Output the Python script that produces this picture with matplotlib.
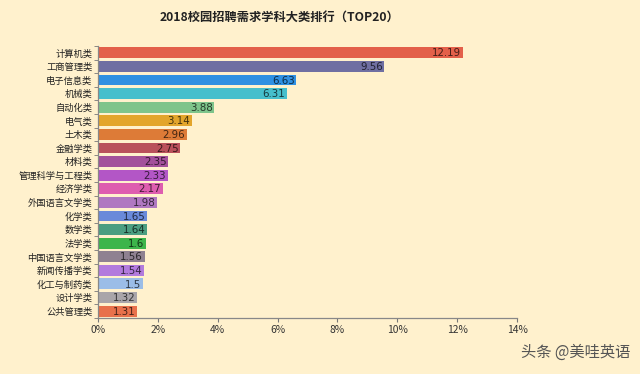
import numpy as np
import matplotlib
matplotlib.use("Agg")
import matplotlib.pyplot as plt
from matplotlib.colors import to_rgb
from matplotlib.ticker import FuncFormatter, FixedLocator

plt.rcParams["font.family"] = ["Noto Sans CJK SC", "DejaVu Sans"]

subjects = ["计算机类", "工商管理类", "电子信息类", "机械类", "自动化类", "电气类",
            "土木类", "金融学类", "材料类", "管理科学与工程类", "经济学类",
            "外国语言文学类", "化学类", "数学类", "法学类", "中国语言文学类",
            "新闻传播学类", "化工与制药类", "设计学类", "公共管理类"]
share = [12.19, 9.56, 6.63, 6.31, 3.88, 3.14, 2.96, 2.75, 2.35, 2.33, 2.17,
         1.98, 1.65, 1.64, 1.6, 1.56, 1.54, 1.5, 1.32, 1.31]
share_text = ["12.19", "9.56", "6.63", "6.31", "3.88", "3.14", "2.96", "2.75",
              "2.35", "2.33", "2.17", "1.98", "1.65", "1.64", "1.6", "1.56",
              "1.54", "1.5", "1.32", "1.31"]
bar_colors = ["#E3604A", "#6F6FA2", "#2F90E2", "#46BFCC", "#7EC48B", "#E3A52B",
              "#DD7B37", "#B9515B", "#A3519B", "#B356C6", "#DE5DAF", "#B078C1",
              "#6A8ADA", "#4B9E81", "#3DB54B", "#8F8191", "#B27BDD", "#9BBDE7",
              "#A9A5A9", "#E8714B"]

BG = "#FFF1CD"

fig = plt.figure(figsize=(6.4, 3.74), dpi=100, facecolor=BG)
ax = fig.add_axes([0.153, 0.150, 0.655, 0.727])
ax.set_facecolor(BG)

y = np.arange(len(subjects))
ax.barh(y, share, height=0.8, color=bar_colors, zorder=2)

# value labels sit inside the bar end, in a dark shade of the bar colour
for yi, v, t, c in zip(y, share, share_text, bar_colors):
    dark = tuple(ch * 0.3 for ch in to_rgb(c))
    ax.text(v - 0.05, yi + 0.05, t, ha="right", va="center", fontsize=7.4,
            color=dark, family=["DejaVu Sans"], zorder=3)

ax.set_ylim(len(subjects) - 0.5, -0.5)
ax.set_xlim(0, 14)
ax.set_xticks(np.arange(0, 15, 2))
ax.xaxis.set_major_formatter(FuncFormatter(lambda v, p: f"{v:.0f}%"))
ax.set_yticks(y)
ax.set_yticklabels(subjects, fontsize=6.7)
ax.yaxis.set_minor_locator(FixedLocator(np.arange(-0.5, len(subjects), 1)))
ax.tick_params(axis="y", which="major", length=0, pad=4, labelcolor="#222222")
ax.tick_params(axis="y", which="minor", length=3, color="#777777")
ax.tick_params(axis="x", length=3, color="#777777", pad=2, labelsize=7.4,
               labelcolor="#333333")

for side in ("top", "right"):
    ax.spines[side].set_visible(False)
for side in ("left", "bottom"):
    ax.spines[side].set_color("#888888")
    ax.spines[side].set_linewidth(0.9)

fig.text(0.436, 0.955, "2018校园招聘需求学科大类排行（TOP20）", ha="center",
         va="center", fontsize=8.8, fontweight="bold", color="#222222")

fig.text(0.985, 0.058, "头条 @美哇英语", ha="right", va="center", fontsize=11,
         color="#555555")

fig.savefig("out.png", dpi=100, facecolor=BG)
